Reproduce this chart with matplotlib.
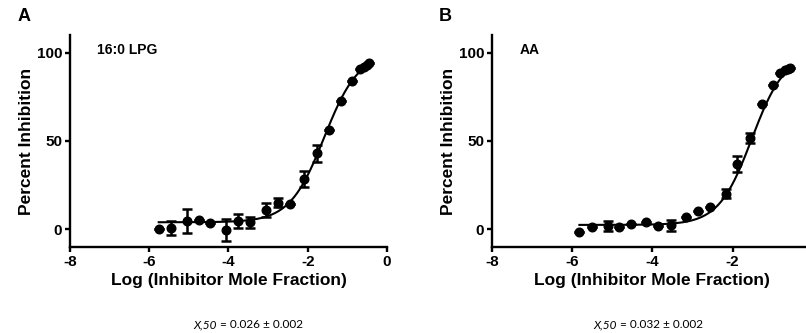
import numpy as np
import matplotlib.pyplot as plt

plt.rcParams['font.family'] = ['Liberation Sans', 'DejaVu Sans']

# panel A: 16:0 LPG
a_x = [-5.76, -5.45, -5.04, -4.75, -4.46, -4.06, -3.77, -3.45, -3.06, -2.76,
       -2.45, -2.09, -1.77, -1.46, -1.16, -0.88, -0.69, -0.58, -0.50, -0.45]
a_y = [0.0, 0.6, 4.7, 5.1, 3.8, -0.4, 4.7, 4.0, 11.1, 15.1,
       14.3, 28.4, 43.0, 56.1, 72.7, 84.2, 90.6, 92.0, 93.2, 94.0]
a_err = [0, 4, 7, 0, 0, 6, 4, 3, 4, 2.5,
         0, 4.5, 5, 0, 0, 0, 0, 0, 0, 0]
# fit: bottom, top, logX50, hill
a_fit = [4.0, 100.0, -1.585, 1.0]

# panel B: AA
b_x = [-5.82, -5.51, -5.11, -4.83, -4.54, -4.15, -3.85, -3.54, -3.15, -2.85,
       -2.57, -2.17, -1.88, -1.57, -1.27, -0.99, -0.81, -0.70, -0.63, -0.57]
b_y = [-1.5, 1.1, 1.9, 1.5, 2.8, 4.1, 1.9, 2.3, 6.9, 10.3,
       12.8, 20.1, 37.1, 51.6, 70.9, 81.8, 88.7, 90.0, 90.8, 91.6]
b_err = [0, 0, 3, 0, 0, 0, 0, 3, 0, 0,
         0, 2.5, 4.5, 3, 0, 0, 0, 0, 0, 0]
b_fit = [2.5, 100.0, -1.52, 1.05]

panels = [
    ('A', '16:0 LPG', a_x, a_y, a_err, a_fit, '= 0.026 ± 0.002'),
    ('B', 'AA', b_x, b_y, b_err, b_fit, '= 0.032 ± 0.002'),
]

fig = plt.figure(figsize=(8.06, 3.33), dpi=100)
boxes = [[0.0868, 0.2583, 0.3933, 0.6366], [0.6104, 0.2583, 0.398, 0.6366]]
splits = [220 / 806, 620 / 806]
lfont = ['Lato', 'DejaVu Sans']

for box, sx, (letter, name, x, y, err, fit, val) in zip(boxes, splits, panels):
    ax = fig.add_axes(box)
    bot, top, lx50, hill = fit
    xs = np.linspace(min(x), max(x), 200)
    ax.plot(xs, bot + (top - bot) / (1 + 10 ** ((lx50 - xs) * hill)),
            color='black', lw=1.5, zorder=2)
    ax.errorbar(x, y, yerr=err, fmt='o', color='black', ms=6.2,
                elinewidth=1.8, capsize=3.5, capthick=1.8, zorder=3)
    ax.set_xlim(-8, 0)
    ax.set_ylim(-10, 110)
    ax.set_xticks([-8, -6, -4, -2, 0])
    ax.set_yticks([0, 50, 100])
    ax.set_xticklabels(['-8', '-6', '-4', '-2', '0'])
    for s in ['top', 'right']:
        ax.spines[s].set_visible(False)
    for s in ['left', 'bottom']:
        ax.spines[s].set_linewidth(1.7)
    ax.tick_params(width=1.7, length=3.5, labelsize=11, pad=2)
    for t in ax.get_xticklabels() + ax.get_yticklabels():
        t.set_fontweight('bold')
    ax.set_xlabel('Log (Inhibitor Mole Fraction)', fontsize=12.5,
                  fontweight='bold', labelpad=3)
    ax.set_ylabel('Percent Inhibition', fontsize=12.5, fontweight='bold',
                  labelpad=2)
    ax.text(0.085, 0.93, name, transform=ax.transAxes, fontsize=10,
            fontweight='bold', va='center')
    ax.text(-0.165, 1.085, letter, transform=ax.transAxes, fontsize=13,
            fontweight='bold', va='center')
    fig.text(sx, 0.025, 'X,50 ', fontsize=8.5, style='italic',
             ha='right', va='center', family=lfont)
    fig.text(sx, 0.025, val, fontsize=8.5,
             ha='left', va='center', family=lfont)

fig.savefig('out.png', dpi=100)
